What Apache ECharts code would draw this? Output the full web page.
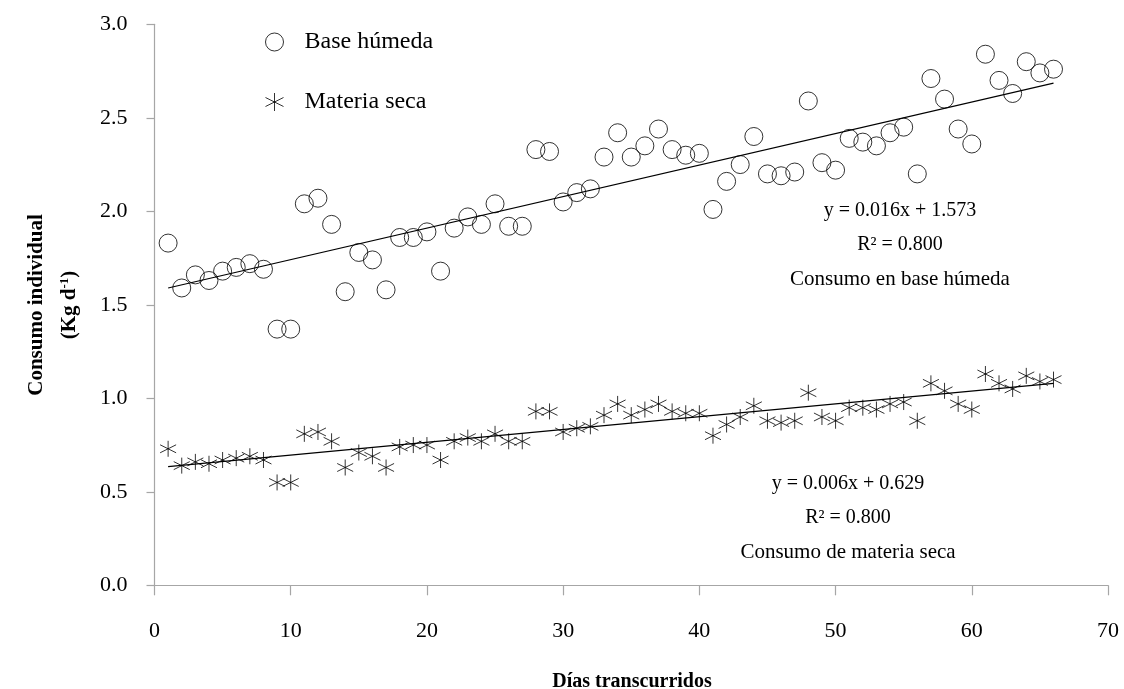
<!DOCTYPE html>
<html>
<head>
<meta charset="utf-8">
<script src="https://cdn.jsdelivr.net/npm/echarts@6/dist/echarts.min.js"></script>
<style>
  html, body { margin: 0; padding: 0; background: #fff; }
  #chart { width: 1124px; height: 689px; }
</style>
</head>
<body>
<div id="chart"></div>
<script>
// días de ensayo
const days = [1, 2, 3, 4, 5, 6, 7, 8, 9, 10, 11, 12, 13, 14, 15, 16, 17, 18, 19, 20, 21, 22,
  23, 24, 25, 26, 27, 28, 29, 30, 31, 32, 33, 34, 35, 36, 37, 38, 39, 40, 41, 42, 43, 44,
  45, 46, 47, 48, 49, 50, 51, 52, 53, 54, 55, 56, 57, 58, 59, 60, 61, 62, 63, 64, 65, 66];
// consumo en base húmeda (kg/d)
const wetValues = [1.83, 1.59, 1.66, 1.63, 1.68, 1.70, 1.72, 1.69, 1.37, 1.37, 2.04, 2.07,
  1.93, 1.57, 1.78, 1.74, 1.58, 1.86, 1.86, 1.89, 1.68, 1.91, 1.97, 1.93, 2.04, 1.92, 1.92,
  2.33, 2.32, 2.05, 2.10, 2.12, 2.29, 2.42, 2.29, 2.35, 2.44, 2.33, 2.30, 2.31, 2.01, 2.16,
  2.25, 2.40, 2.20, 2.19, 2.21, 2.59, 2.26, 2.22, 2.39, 2.37, 2.35, 2.42, 2.45, 2.20, 2.71,
  2.60, 2.44, 2.36, 2.84, 2.70, 2.63, 2.80, 2.74, 2.76];
// consumo de materia seca (kg/d)
const dryValues = [0.73, 0.64, 0.66, 0.65, 0.67, 0.68, 0.69, 0.67, 0.55, 0.55, 0.81, 0.82,
  0.77, 0.63, 0.71, 0.69, 0.63, 0.74, 0.75, 0.75, 0.67, 0.77, 0.79, 0.77, 0.81, 0.77, 0.77,
  0.93, 0.93, 0.82, 0.84, 0.85, 0.91, 0.97, 0.91, 0.94, 0.97, 0.93, 0.92, 0.92, 0.80, 0.86,
  0.90, 0.96, 0.88, 0.87, 0.88, 1.03, 0.90, 0.88, 0.95, 0.95, 0.94, 0.97, 0.98, 0.88, 1.08,
  1.04, 0.97, 0.94, 1.13, 1.08, 1.05, 1.12, 1.09, 1.10];
// extremos de las rectas de tendencia
const trendX = [1, 66];
const wetTrend = [1.59, 2.685];
const dryTrend = [0.635, 1.08];

const xTicks = { min: 0, max: 70, interval: 10 };
const yTicks = { min: 0, max: 3, interval: 0.5 };

const wetEq = ['y = 0.016x + 1.573', 'R² = 0.800', 'Consumo en base húmeda'];
const dryEq = ['y = 0.006x + 0.629', 'R² = 0.800', 'Consumo de materia seca'];

const serif = '"Liberation Serif", "Times New Roman", serif';
const starPath = 'path://M8,0 L8,16 M0,4 L16,12 M0,12 L16,4';
const axisGray = '#a6a6a6';

const chart = echarts.init(document.getElementById('chart'));

function eqText(lines, cx, y0) {
  return lines.map((t, i) => ({
    type: 'text', x: cx, y: y0 + i * 34,
    style: { text: t, fontFamily: serif, fontSize: i === 2 ? 21 : 20, fill: '#000', align: 'center', verticalAlign: 'middle' }
  }));
}

const option = {
  animation: false,
  backgroundColor: '#fff',
  grid: { left: 154.5, right: 16, top: 24.3, bottom: 103.7 },
  legend: {
    orient: 'vertical',
    left: 263, top: 30, padding: 0,
    itemWidth: 18, itemHeight: 18, itemGap: 36,
    textStyle: { fontFamily: serif, fontSize: 24, color: '#000', padding: [0, 0, 0, 16] },
    data: [
      { name: 'Base húmeda', icon: 'circle', itemStyle: { color: 'rgba(0,0,0,0)', borderColor: '#000', borderWidth: 1 } },
      { name: 'Materia seca', icon: starPath, itemStyle: { color: 'none', borderColor: '#000', borderWidth: 1 } }
    ]
  },
  xAxis: {
    type: 'value', ...xTicks,
    axisLine: { show: true, lineStyle: { color: axisGray, width: 1.2 } },
    axisTick: { show: true, length: 10, lineStyle: { color: axisGray, width: 1.2 } },
    splitLine: { show: false },
    axisLabel: { margin: 35, fontFamily: serif, fontSize: 22, color: '#000' }
  },
  yAxis: {
    type: 'value', ...yTicks,
    axisLine: { show: true, lineStyle: { color: axisGray, width: 1.2 } },
    axisTick: { show: true, length: 8, lineStyle: { color: axisGray, width: 1.2 } },
    splitLine: { show: false },
    axisLabel: { margin: 27, fontFamily: serif, fontSize: 22, color: '#000', formatter: v => v.toFixed(1) }
  },
  graphic: [
    ...eqText(wetEq, 900, 211),
    ...eqText(dryEq, 848, 484),
    {
      type: 'text', x: 37, y: 305, rotation: Math.PI / 2,
      style: { text: 'Consumo individual', fontFamily: serif, fontSize: 21, fontWeight: 'bold', fill: '#000', align: 'center', verticalAlign: 'middle' }
    },
    {
      type: 'text', x: 70, y: 305, rotation: Math.PI / 2,
      style: {
        text: '{a|(Kg d}{s|-1}{a|)}', align: 'center', verticalAlign: 'middle',
        rich: {
          a: { fontFamily: serif, fontSize: 21, fontWeight: 'bold', fill: '#000', lineHeight: 24 },
          s: { fontFamily: serif, fontSize: 13, fontWeight: 'bold', fill: '#000', lineHeight: 13, verticalAlign: 'top' }
        }
      }
    },
    {
      type: 'text', x: 632, y: 682,
      style: { text: 'Días transcurridos', fontFamily: serif, fontSize: 20, fontWeight: 'bold', fill: '#000', align: 'center', verticalAlign: 'middle' }
    }
  ],
  series: [
    {
      name: 'Base húmeda', type: 'scatter', symbol: 'circle', symbolSize: 18,
      itemStyle: { color: 'rgba(0,0,0,0)', borderColor: '#000', borderWidth: 1 },
      data: days.map((d, i) => [d, wetValues[i]]), z: 3
    },
    {
      name: 'Materia seca', type: 'scatter', symbol: starPath, symbolSize: 16,
      itemStyle: { color: 'none', borderColor: '#000', borderWidth: 1 },
      data: days.map((d, i) => [d, dryValues[i]]), z: 3
    },
    {
      name: 'tendencia húmeda', type: 'line', showSymbol: false, silent: true,
      lineStyle: { color: '#000', width: 1.2 },
      data: trendX.map((x, i) => [x, wetTrend[i]]), z: 2
    },
    {
      name: 'tendencia seca', type: 'line', showSymbol: false, silent: true,
      lineStyle: { color: '#000', width: 1.2 },
      data: trendX.map((x, i) => [x, dryTrend[i]]), z: 2
    }
  ]
};

chart.setOption(option);
window.onresize = function () { chart.resize(); };
</script>
</body>
</html>
